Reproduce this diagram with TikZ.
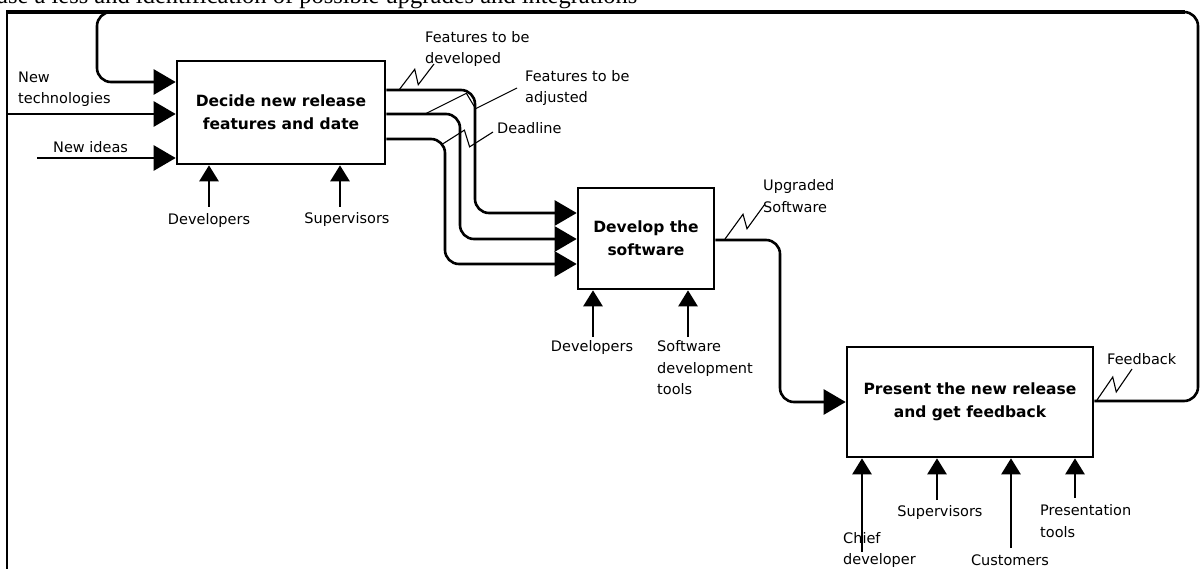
\documentclass[tikz,border=0pt]{standalone}
\usepackage{fontspec}
\setmainfont{DejaVu Sans}
\newfontfamily\topserif{Liberation Serif}
\usetikzlibrary{arrows.meta,calc}
\tikzset{
  box/.style={draw,line width=2.6pt,inner sep=0pt,align=center,
    font=\fontsize{15.5}{23}\selectfont\bfseries},
  conn/.style={line width=2.6pt,rounded corners=14pt},
  bigtip/.style={-{Triangle[length=22pt,width=25pt]}},
  smalltip/.style={-{Triangle[length=16pt,width=19pt]}},
  lbl/.style={font=\fontsize{14.5}{21.5}\selectfont,align=left,inner sep=0pt},
  squig/.style={line width=1.1pt},
  frameline/.style={line width=2pt}
}
\newcommand\squiggle[2]{\draw[squig] (#1) -- ($(#1)!0.45!(#2)+(0,-9)$) -- ($(#1)!0.55!(#2)+(0,9)$) -- (#2);}
\begin{document}
\begin{tikzpicture}[x=1pt,y=-1pt]
\useasboundingbox (0,0) rectangle (1202,569);
\clip (0,0) rectangle (1202,569);

% clipped caption text at the very top
\node[anchor=base west,inner sep=0pt,font=\topserif\fontsize{24.5}{28}\selectfont] (cap) at (-3,3.5)
  {ase a less and identification of possible upgrades and integrations};

% frame
\draw[frameline] (7,569) -- (7,12);
\draw[line width=3.2pt] (6,12) -- (1185,12);

% boxes
\node[box,minimum width=208pt,minimum height=103pt] (b1) at (281,112.5) {Decide new release\\features and date};
\node[box,minimum width=136pt,minimum height=101pt] (b2) at (646,238.5) {Develop the\\software};
\node[box,minimum width=246pt,minimum height=110pt] (b3) at (970,402) {Present the new release\\and get feedback};

% helper coordinates
\coordinate (nt) at (7,114);
\coordinate (ni) at (37,158);
\coordinate (y90) at (0,90);
\coordinate (y114) at (0,114);
\coordinate (y139) at (0,139);
\coordinate (c1) at (475,213);
\coordinate (c2) at (460,239);
\coordinate (c3) at (445,264);
\coordinate (y240) at (0,240);
\coordinate (c4) at (780,402);
\coordinate (y401) at (0,401);
\coordinate (lp1) at (1198,12);
\coordinate (lp2) at (97,12);
\coordinate (lp3) at (97,82);

% inputs of box 1
\draw[conn,bigtip] (nt) -- (nt -| b1.west);
\draw[conn,bigtip] (ni) -- (ni -| b1.west);

% outputs of box 1 to box 2
\draw[conn,bigtip] (b1.east |- y90) -| (c1) -- (c1 -| b2.west);
\draw[conn,bigtip] (b1.east |- y114) -| (c2) -- (c2 -| b2.west);
\draw[conn,bigtip] (b1.east |- y139) -| (c3) -- (c3 -| b2.west);

% box 2 to box 3
\draw[conn,bigtip] (b2.east |- y240) -| (c4) -- (c4 -| b3.west);

% feedback loop to box 1
\draw[conn,bigtip] (b3.east |- y401) -| (lp1) -- (lp2) -- (lp3) -- (lp3 -| b1.west);

% mechanisms
\coordinate (m1) at (209,207);
\coordinate (m2) at (340,207);
\coordinate (m3) at (593,337);
\coordinate (m4) at (688,337);
\coordinate (m5) at (862,552);
\coordinate (m6) at (937,500);
\coordinate (m7) at (1011,548);
\coordinate (m8) at (1075,498);
\foreach \m in {m1,m2}{\draw[conn,smalltip] (\m) -- (\m |- b1.south);}
\foreach \m in {m3,m4}{\draw[conn,smalltip] (\m) -- (\m |- b2.south);}
\foreach \m in {m5,m6,m7,m8}{\draw[conn,smalltip] (\m) -- (\m |- b3.south);}

% labels
\node[lbl,anchor=west] (lnt) at (18,89) {New\\technologies};
\node[lbl,anchor=west] (lni) at (53,147) {New ideas};
\node[lbl] (ld1) at (209,221) {Developers};
\node[lbl] (ls1) at (347,220) {Supervisors};
\node[lbl,anchor=west] (lfd) at (425,49) {Features to be\\developed};
\node[lbl,anchor=west] (lfa) at (525,88) {Features to be\\adjusted};
\node[lbl,anchor=west] (ldl) at (497,128) {Deadline};
\node[lbl,anchor=west] (lup) at (763,196) {Upgraded\\Software};
\node[lbl] (ld2) at (592,347) {Developers};
\node[lbl,anchor=west] (lsd) at (657,368) {Software\\development\\tools};
\node[lbl,anchor=west] (lfb) at (1107,359) {Feedback};
\node[lbl] (ls3) at (940,512) {Supervisors};
\node[lbl,anchor=west] (lcd) at (843,550) {Chief\\developer};
\node[lbl] (lcu) at (1010,560) {Customers};
\node[lbl,anchor=west] (lpt) at (1040,521) {Presentation\\tools};

% squiggles
\coordinate (s1a) at (399,90);  \coordinate (s1b) at (434,64);
\coordinate (s2a) at (425,114); \coordinate (s2b) at (517,88);
\coordinate (s3a) at (441,145); \coordinate (s3b) at (493,132);
\coordinate (s4a) at (725,239); \coordinate (s4b) at (765,204);
\coordinate (s5a) at (1097,400); \coordinate (s5b) at (1132,369);
\squiggle{s1a}{s1b}
\squiggle{s2a}{s2b}
\squiggle{s3a}{s3b}
\squiggle{s4a}{s4b}
\squiggle{s5a}{s5b}
\end{tikzpicture}
\end{document}
